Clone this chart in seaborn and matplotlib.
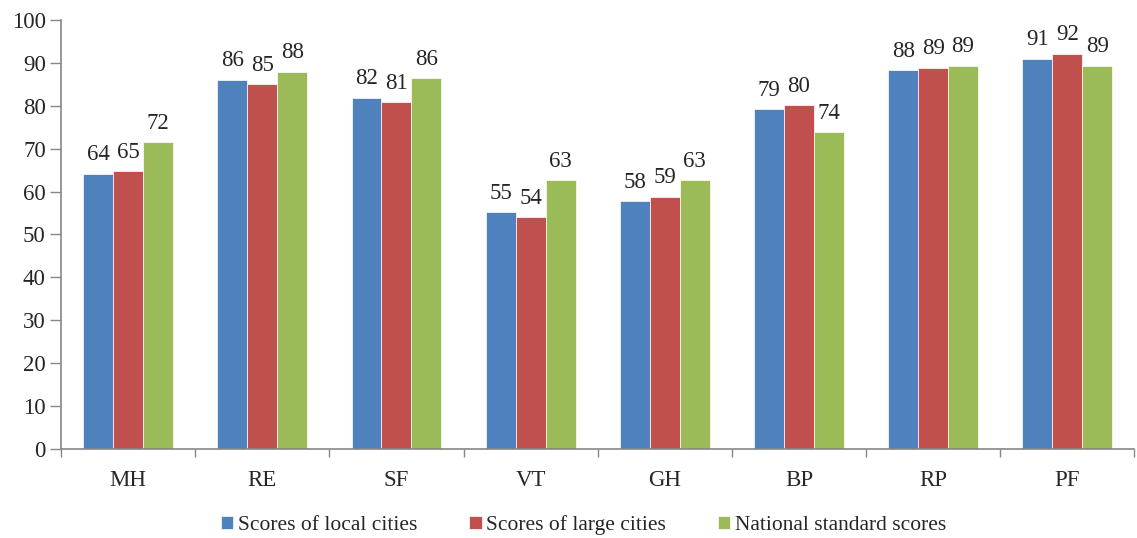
import numpy as np
import pandas as pd
import matplotlib
matplotlib.use('Agg')
import matplotlib.pyplot as plt
import seaborn as sns

categories = ['MH', 'RE', 'SF', 'VT', 'GH', 'BP', 'RP', 'PF']
series_names = ['Scores of local cities', 'Scores of large cities', 'National standard scores']
local_scores = [64.2, 86.1, 81.9, 55.2, 57.8, 79.2, 88.3, 91.0]
large_scores = [64.8, 85.0, 80.8, 54.0, 58.8, 80.2, 88.9, 92.1]
national_scores = [71.5, 87.9, 86.4, 62.7, 62.7, 73.9, 89.3, 89.3]
local_labels = [64, 86, 82, 55, 58, 79, 88, 91]
large_labels = [65, 85, 81, 54, 59, 80, 89, 92]
national_labels = [72, 88, 86, 63, 63, 74, 89, 89]
colors = ['#4F81BD', '#C0504D', '#9BBB59']

fsize = 16.5
axis_gray = '#868686'

sns.set_style('white')
plt.rcParams['font.family'] = ['Liberation Serif', 'DejaVu Serif']

df = pd.DataFrame({
    'category': categories * 3,
    'series': [series_names[0]] * 8 + [series_names[1]] * 8 + [series_names[2]] * 8,
    'score': local_scores + large_scores + national_scores,
})

fig = plt.figure(figsize=(11.37, 5.38), dpi=100)
ax = fig.add_axes([0.0537, 0.1654, 0.944, 0.7976])
sns.barplot(data=df, x='category', y='score', hue='series', order=categories,
            hue_order=series_names, palette=colors, width=0.67, saturation=1,
            edgecolor='white', linewidth=0.5, errorbar=None, ax=ax)

all_labels = [local_labels, large_labels, national_labels]
for cont, labs in zip(ax.containers, all_labels):
    ax.bar_label(cont, labels=[str(v) for v in labs], padding=6, fontsize=fsize)

ax.set_ylim(0, 100)
ax.set_xlim(-0.5, 7.5)
ax.set_yticks(np.arange(0, 101, 10))
ax.set_xticks(np.arange(-0.5, 8.0, 1), minor=True)
ax.set_xlabel('')
ax.set_ylabel('')
ax.tick_params(axis='y', which='major', length=8, color=axis_gray, width=1, labelsize=fsize, direction='out', left=True, pad=3)
ax.tick_params(axis='x', which='major', length=0, labelsize=fsize, pad=15)
ax.tick_params(axis='x', which='minor', length=6, color=axis_gray, width=1, direction='out', bottom=True)
for side in ['top', 'right']:
    ax.spines[side].set_visible(False)
for side in ['left', 'bottom']:
    ax.spines[side].set_color(axis_gray)
    ax.spines[side].set_linewidth(1.2)

handles, labels = ax.get_legend_handles_labels()
ax.legend_.remove()
fig.legend(handles, labels, loc='center', bbox_to_anchor=(0.513, 0.024), ncol=3,
           frameon=False, fontsize=15.5, handlelength=0.6, handleheight=0.6,
           handletextpad=0.2, columnspacing=2.4)

fig.savefig('out.png', dpi=100)
